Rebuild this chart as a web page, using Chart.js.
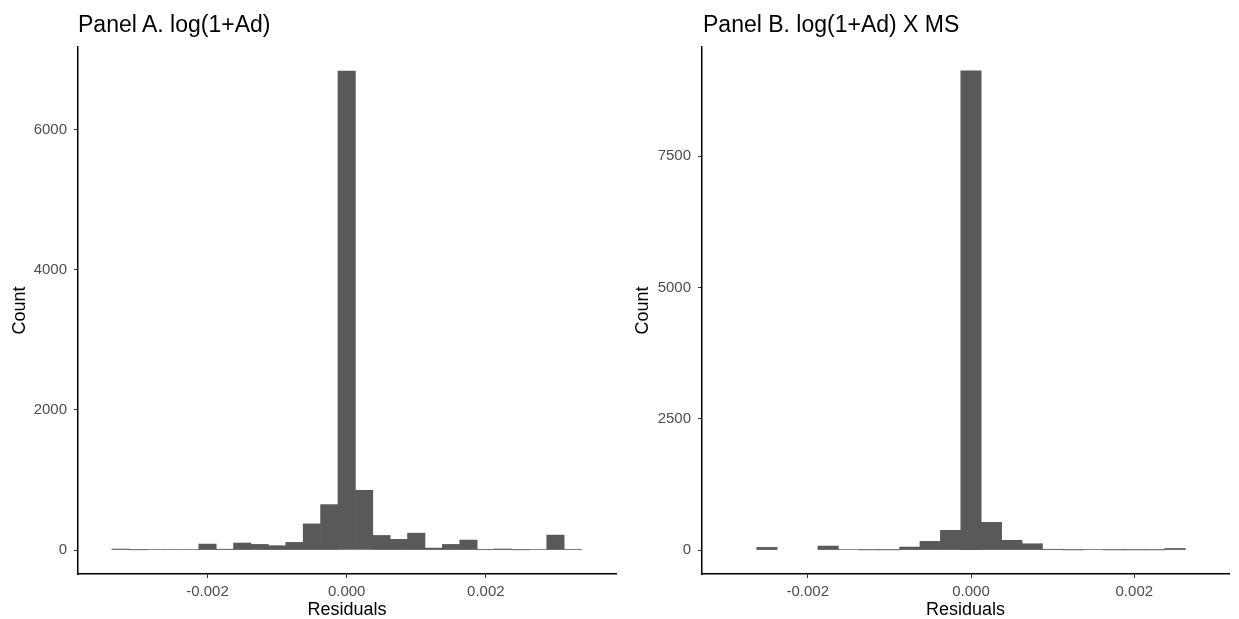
<!DOCTYPE html>
<html lang="en">
<head>
<meta charset="utf-8">
<title>Residual histograms</title>
<script src="https://cdn.jsdelivr.net/npm/chart.js@4.4.1/dist/chart.umd.min.js"></script>
<style>
  html, body { margin: 0; padding: 0; background: #fff; }
  #page { position: relative; width: 1239px; height: 619px; overflow: hidden; }
  .panel { position: absolute; top: 0; }
  .panel-title {
    position: absolute; top: 13px; margin: 0;
    font: normal 23px/23px "Liberation Sans", Arial, sans-serif;
    color: #000; white-space: nowrap;
  }
</style>
</head>
<body>
<div id="page">
  <canvas id="chart-a" class="panel" width="620" height="619" style="left:0"></canvas>
  <canvas id="chart-b" class="panel" width="619" height="619" style="left:620px"></canvas>
  <h2 class="panel-title" style="left:78px">Panel A. log(1+Ad)</h2>
  <h2 class="panel-title" style="left:703px">Panel B. log(1+Ad) X MS</h2>
</div>
<script>
"use strict";

// Panel A: bin centres (width 0.00025) and counts
const binsA = [-0.00325, -0.003, -0.00275, -0.0025, -0.00225, -0.002, -0.00175, -0.0015, -0.00125,
  -0.001, -0.00075, -0.0005, -0.00025, 0, 0.00025, 0.0005, 0.00075, 0.001, 0.00125,
  0.0015, 0.00175, 0.002, 0.00225, 0.0025, 0.00275, 0.003, 0.00325];
const countsA = [14, 3, 8, 8, 8, 85, 12, 100, 80,
  62, 109, 373, 648, 6835, 851, 208, 152, 241, 28,
  80, 142, 10, 15, 3, 8, 213, 5];
const yTicksA = [0, 2000, 4000, 6000];

// Panel B (null = empty bin, nothing drawn)
const binsB = [-0.0025, -0.00225, -0.002, -0.00175, -0.0015, -0.00125, -0.001, -0.00075, -0.0005,
  -0.00025, 0, 0.00025, 0.0005, 0.00075, 0.001, 0.00125, 0.0015, 0.00175, 0.002, 0.00225, 0.0025];
const countsB = [50, null, null, 76, 10, 3, 3, 57, 165,
  375, 9120, 527, 185, 120, 15, 2, 8, 2, 2, 2, 30];
const yTicksB = [0, 2500, 5000, 7500];

const xTicks = [-0.002, 0, 0.002];

const BAR_COLOR = "#595959";
const TICK_COLOR = "#333333";
const TICK_LABEL_COLOR = "#4D4D4D";
const FONT = "'Liberation Sans', Arial, sans-serif";

// ヒストグラム1枚を描く
function buildHistogram(canvasId, bins, counts, yTicks, p) {
  const ctx = document.getElementById(canvasId);
  const tickFont = { family: FONT, size: 15 };
  const titleFont = { family: FONT, size: 18, lineHeight: 1 };

  return new Chart(ctx, {
    type: "bar",
    data: {
      datasets: [{
        data: bins.map((x, i) => ({ x: x, y: counts[i] })),
        backgroundColor: BAR_COLOR,
        borderWidth: 0,
        barPercentage: 1,
        categoryPercentage: 1
      }]
    },
    options: {
      responsive: false,
      animation: false,
      layout: { padding: { top: 47, right: p.padRight, bottom: 0, left: 0 } },
      plugins: {
        legend: { display: false },
        tooltip: { enabled: false },
        title: { display: false }
      },
      scales: {
        x: {
          type: "linear",
          offset: false,
          min: p.xMin,
          max: p.xMax,
          afterFit: s => { s.height = 45; },
          afterBuildTicks: s => { s.ticks = xTicks.map(v => ({ value: v })); },
          grid: { display: true, drawOnChartArea: false, offset: false, tickLength: 4, tickColor: TICK_COLOR, tickWidth: 1 },
          border: { display: true, color: "#000", width: 1.5 },
          ticks: { font: tickFont, color: TICK_LABEL_COLOR, padding: 5, maxRotation: 0, autoSkip: false,
            callback: v => Number(v).toFixed(3) },
          title: { display: true, text: "Residuals", font: titleFont, color: "#000", padding: 0 }
        },
        y: {
          min: p.yMin,
          max: p.yMax,
          afterFit: s => { s.width = p.yWidth; },
          afterBuildTicks: s => { s.ticks = yTicks.map(v => ({ value: v })); },
          grid: { display: true, drawOnChartArea: false, tickLength: 4, tickColor: TICK_COLOR, tickWidth: 1 },
          border: { display: true, color: "#000", width: 1.5 },
          ticks: { font: tickFont, color: TICK_LABEL_COLOR, padding: 7, autoSkip: false,
            callback: v => String(v) },
          title: { display: true, text: "Count", font: titleFont, color: "#000", padding: { top: p.yTitlePad, bottom: 0 } }
        }
      }
    }
  });
}

buildHistogram("chart-a", binsA, countsA, yTicksA, {
  xMin: -0.003861, xMax: 0.00387, yMin: -342, yMax: 7177,
  yWidth: 78, padRight: 4, yTitlePad: 11
});

buildHistogram("chart-b", binsB, countsB, yTicksB, {
  xMin: -0.003295, xMax: 0.00316, yMin: -456, yMax: 9576,
  yWidth: 82, padRight: 10, yTitlePad: 14
});
</script>
</body>
</html>
